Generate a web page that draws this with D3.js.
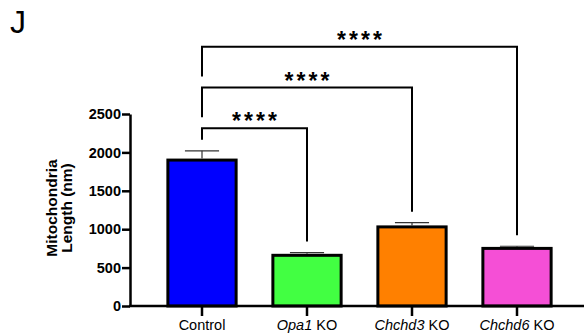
<!DOCTYPE html>
<html>
<head>
<meta charset="utf-8">
<script src="https://cdn.jsdelivr.net/npm/d3@7"></script>
<style>
  body { margin: 0; background: #fff; }
  text { font-family: "Liberation Sans", Arial, sans-serif; }
</style>
</head>
<body>
<div id="chart"></div>
<script>
// data
let groups = ["Control", "Opa1 KO", "Chchd3 KO", "Chchd6 KO"];
let geneNames = ["", "Opa1", "Chchd3", "Chchd6"];
let means = [1900, 660, 1030, 750];
let sems = [120, 35, 55, 28];
let colors = ["#0000ff", "#42ff42", "#ff8000", "#f54fd6"];
let yTicks = [0, 500, 1000, 1500, 2000, 2500];
// significance brackets: from Control to each group, bracket height in data units
let bracketTo = ["Opa1 KO", "Chchd3 KO", "Chchd6 KO"];
let bracketLevel = [2315, 2845, 3375];
let bracketLabel = ["****", "****", "****"];

let width = 584, height = 336;

let svg = d3.select("#chart")
    .append("svg")
    .attr("width", width)
    .attr("height", height);

let x = d3.scaleBand()
    .domain(groups)
    .range([149.5, 569.5])
    .paddingInner(0.35)
    .paddingOuter(0.175);

let y = d3.scaleLinear()
    .domain([0, 2500])
    .range([306, 114]);

// panel letter
svg.append("text")
    .attr("x", 10)
    .attr("y", 33)
    .attr("font-size", 32)
    .text("J");

// bars
svg.selectAll(".bar")
    .data(groups)
    .enter()
    .append("rect")
    .attr("class", "bar")
    .attr("x", d => x(d))
    .attr("y", (d, i) => y(means[i]))
    .attr("width", x.bandwidth())
    .attr("height", (d, i) => y(0) - y(means[i]))
    .attr("fill", (d, i) => colors[i])
    .attr("stroke", "#000")
    .attr("stroke-width", 3);

// error bars (upper only)
groups.forEach((g, i) => {
    let cx = x(g) + x.bandwidth() / 2;
    let capW = x.bandwidth() / 2;
    svg.append("line")
        .attr("x1", cx).attr("x2", cx)
        .attr("y1", y(means[i]) - 1.5)
        .attr("y2", y(means[i] + sems[i]))
        .attr("stroke", "#333")
        .attr("stroke-width", 1.2);
    svg.append("line")
        .attr("x1", cx - capW / 2).attr("x2", cx + capW / 2)
        .attr("y1", y(means[i] + sems[i]))
        .attr("y2", y(means[i] + sems[i]))
        .attr("stroke", "#333")
        .attr("stroke-width", 1.2);
});

// y axis
let yAxis = svg.append("g")
    .attr("transform", "translate(130,0)")
    .call(d3.axisLeft(y)
        .tickValues(yTicks)
        .tickFormat(d3.format("d"))
        .tickSize(8)
        .tickSizeOuter(0)
        .tickPadding(1));
yAxis.select(".domain").attr("stroke-width", 2.5);
yAxis.selectAll(".tick line").attr("stroke-width", 2.5);
yAxis.selectAll(".tick text")
    .attr("font-size", 14.5)
    .attr("font-weight", "bold")
    .attr("font-family", "Liberation Sans, Arial, sans-serif")
    .attr("fill", "#000");

// x axis baseline and ticks
svg.append("line")
    .attr("x1", 129).attr("x2", width)
    .attr("y1", y(0)).attr("y2", y(0))
    .attr("stroke", "#000")
    .attr("stroke-width", 2.5);

groups.forEach((g, i) => {
    let cx = x(g) + x.bandwidth() / 2;
    svg.append("line")
        .attr("x1", cx).attr("x2", cx)
        .attr("y1", y(0)).attr("y2", y(0) + 10)
        .attr("stroke", "#000")
        .attr("stroke-width", 2.5);
    let t = svg.append("text")
        .attr("x", cx)
        .attr("y", 330)
        .attr("text-anchor", "middle")
        .attr("font-size", 14.5);
    if (geneNames[i]) {
        t.append("tspan").attr("font-style", "italic").text(geneNames[i]);
        t.append("tspan").text(" KO");
    } else {
        t.text(g);
    }
});

// y axis title
let yTitle = ["Mitochondria", "Length (nm)"];
yTitle.forEach((s, i) => {
    svg.append("text")
        .attr("transform", "translate(" + (57 + i * 14.5) + ",208) rotate(-90)")
        .attr("text-anchor", "middle")
        .attr("font-size", 15.5)
        .attr("font-weight", "bold")
        .text(s);
});

// significance brackets
let ctrlX = x(groups[0]) + x.bandwidth() / 2;
bracketTo.forEach((g, k) => {
    let gi = groups.indexOf(g);
    let gx = x(g) + x.bandwidth() / 2;
    let by = y(bracketLevel[k]);
    let leftEnd = k === 0 ? y(means[0] + sems[0]) - 11 : y(bracketLevel[k - 1]) - 11;
    let rightEnd = y(means[gi] + sems[gi]) - 11;

    svg.append("path")
        .attr("d", "M" + ctrlX + "," + leftEnd + "V" + by + "H" + gx + "V" + rightEnd)
        .attr("fill", "none")
        .attr("stroke", "#000")
        .attr("stroke-width", 2);

    svg.append("text")
        .attr("x", (ctrlX + gx) / 2 + 1.5)
        .attr("y", by + 1)
        .attr("text-anchor", "middle")
        .attr("font-size", 23)
        .attr("font-weight", "bold")
        .attr("letter-spacing", 3)
        .text(bracketLabel[k]);
});
</script>
</body>
</html>
